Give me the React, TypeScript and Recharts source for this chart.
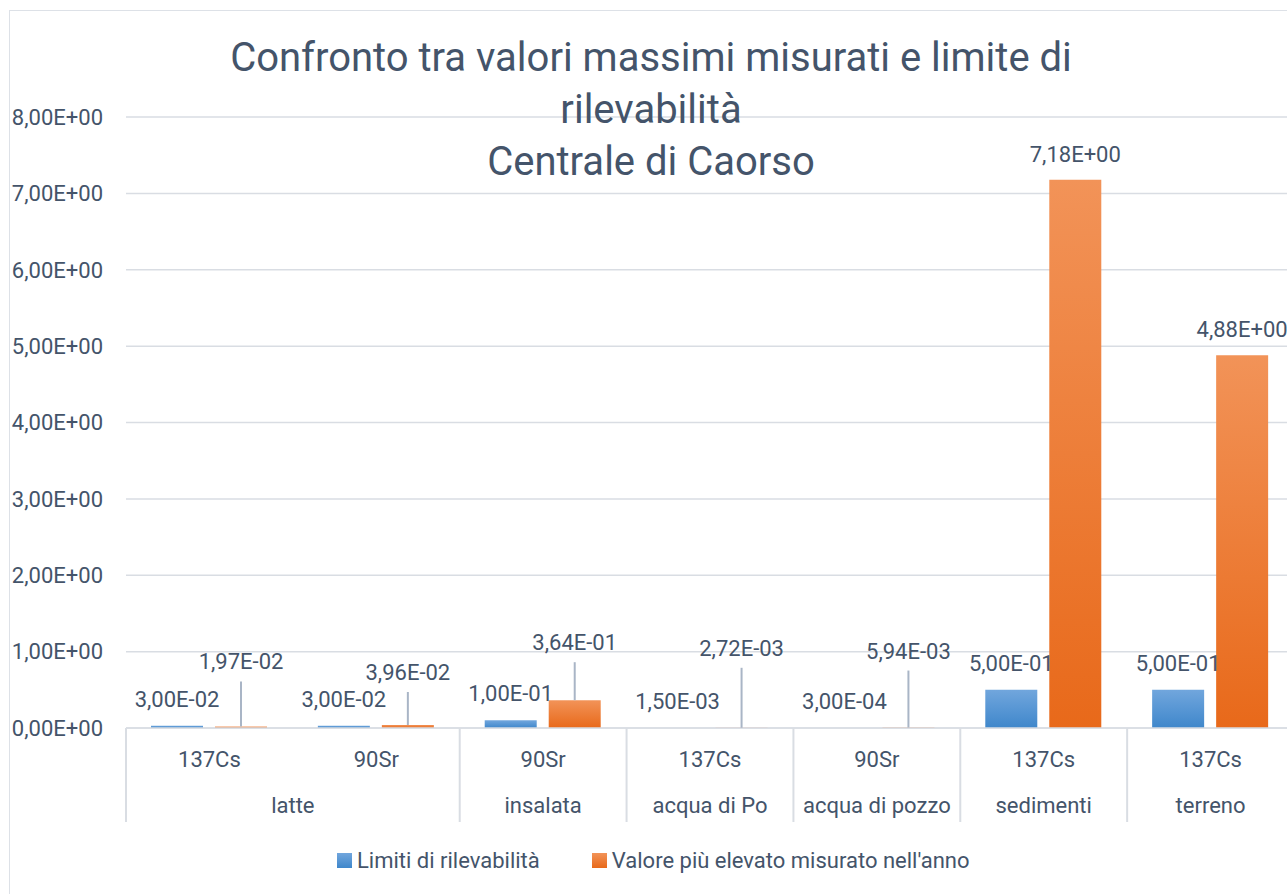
import React from 'react';
import { BarChart, Bar, XAxis, YAxis, CartesianGrid, LabelList, Legend } from 'recharts';

// ---------- data ----------
const subLabels = ['137Cs', '90Sr', '90Sr', '137Cs', '90Sr', '137Cs', '137Cs'];
const groupLabels = ['latte', 'latte', 'insalata', 'acqua di Po', 'acqua di pozzo', 'sedimenti', 'terreno'];
const limitiValues = [3.0e-2, 3.0e-2, 1.0e-1, 1.5e-3, 3.0e-4, 5.0e-1, 5.0e-1];
const valoreValues = [1.97e-2, 3.96e-2, 3.64e-1, 2.72e-3, 5.94e-3, 7.18, 4.88];
const yTicks = [0, 1, 2, 3, 4, 5, 6, 7, 8];
const seriesNames = ['Limiti di rilevabilità', "Valore più elevato misurato nell'anno"];
const titleLines = ['Confronto tra valori massimi misurati e limite di', 'rilevabilità', 'Centrale di Caorso'];

const data = subLabels.map((s, i) => ({
  idx: i,
  sub: s,
  group: groupLabels[i],
  limiti: limitiValues[i],
  valore: valoreValues[i],
}));

// ---------- style ----------
const FONT = 'Roboto, "Noto Sans", sans-serif';
const TEXT = '#44546A';
const GRID = '#D9DDE3';
const LEADER = '#A9B5C6';
const CHART_W = 1300;
const CHART_H = 884;
const PLOT_W = CHART_W - 116 - 16;
// manual label lifts (px above bar top) as in the original, for the orange series
const ORANGE_LIFT = [65, 53, 58, 80, 77, 26, 26];
const BLUE_LIFT = 27;

function fmt(v: number): string {
  if (v === 0) return '0,00E+00';
  let e = Math.floor(Math.log10(Math.abs(v)));
  let m = v / Math.pow(10, e);
  let ms = m.toFixed(2);
  if (ms === '10.00') {
    e += 1;
    ms = '1.00';
  }
  return ms.replace('.', ',') + 'E' + (e < 0 ? '-' : '+') + String(Math.abs(e)).padStart(2, '0');
}

const CatTick = (props: any) => {
  const { x, y, payload } = props;
  const i = Number(payload.value);
  const off = payload.offset ?? PLOT_W / subLabels.length / 2;
  const isFirst = i === 0 || groupLabels[i - 1] !== groupLabels[i];
  let n = 0;
  if (isFirst) {
    let j = i;
    while (j < groupLabels.length && groupLabels[j] === groupLabels[i]) {
      n++;
      j++;
    }
  }
  const isLast = i === subLabels.length - 1;
  return (
    <g>
      <text x={x} y={y + 38.5} textAnchor="middle" fill={TEXT} fontSize={22} fontFamily={FONT}>
        {subLabels[i]}
      </text>
      {isFirst && (
        <>
          <line x1={x - off} x2={x - off} y1={y} y2={y + 94} stroke={GRID} strokeWidth={2} />
          <text x={x - off + n * off} y={y + 84.5} textAnchor="middle" fill={TEXT} fontSize={22} fontFamily={FONT}>
            {groupLabels[i]}
          </text>
        </>
      )}
      {isLast && <line x1={x + off} x2={x + off} y1={y} y2={y + 94} stroke={GRID} strokeWidth={2} />}
    </g>
  );
};

const BlueLabel = (props: any) => {
  const { x, y, width, value } = props;
  const cx = x + width / 2;
  return (
    <text x={cx} y={y - BLUE_LIFT + 8} textAnchor="middle" fill={TEXT} fontSize={22} fontFamily={FONT}>
      {fmt(Number(value))}
    </text>
  );
};

const OrangeLabel = (props: any) => {
  const { x, y, width, value, index } = props;
  const cx = x + width / 2;
  const lift = ORANGE_LIFT[index] ?? 26;
  return (
    <g>
      {lift > 40 && (
        <line x1={cx} x2={cx} y1={y - lift + 20} y2={y} stroke={LEADER} strokeWidth={2} />
      )}
      <text x={cx} y={y - lift + 8} textAnchor="middle" fill={TEXT} fontSize={22} fontFamily={FONT}>
        {fmt(Number(value))}
      </text>
    </g>
  );
};

const LegendContent = () => (
  <div
    style={{
      display: 'flex',
      alignItems: 'center',
      height: 26,
      paddingLeft: 327,
      fontFamily: FONT,
      fontSize: 22,
      color: TEXT,
      whiteSpace: 'nowrap',
    }}
  >
    {seriesNames.map((name, i) => (
      <div key={name} style={{ display: 'flex', alignItems: 'center', marginRight: 52 }}>
        <div
          style={{
            width: 15,
            height: 15,
            marginRight: 5,
            background:
              i === 0
                ? 'linear-gradient(#71A6DD, #3F87CB)'
                : 'linear-gradient(#F29358, #E8691A)',
          }}
        />
        <span>{name}</span>
      </div>
    ))}
  </div>
);

export default function App() {
  return (
    <div
      style={{
        position: 'fixed',
        left: 8,
        top: 8,
        width: 1279,
        height: 886,
        overflow: 'hidden',
      }}
    >
      <div
        style={{
          position: 'absolute',
          left: 1,
          top: 2,
          width: CHART_W,
          height: CHART_H,
          border: '1px solid #DDE1E7',
          background: '#fff',
        }}
      >
        <BarChart
          width={CHART_W}
          height={CHART_H}
          data={data}
          margin={{ top: 106, right: 16, bottom: 67, left: 0 }}
          barSize={52}
          barGap={12}
        >
          <defs>
            <linearGradient id="gBlue" x1="0" y1="0" x2="0" y2="1">
              <stop offset="0%" stopColor="#71A6DD" />
              <stop offset="100%" stopColor="#3F87CB" />
            </linearGradient>
            <linearGradient id="gOrange" x1="0" y1="0" x2="0" y2="1">
              <stop offset="0%" stopColor="#F29358" />
              <stop offset="100%" stopColor="#E8691A" />
            </linearGradient>
          </defs>
          <CartesianGrid vertical={false} stroke={GRID} strokeWidth={1.5} />
          <XAxis
            dataKey="idx"
            type="category"
            height={100}
            tickSize={0}
            tickMargin={0}
            tickLine={false}
            axisLine={{ stroke: GRID, strokeWidth: 1.5 }}
            interval={0}
            tick={<CatTick />}
          />
          <YAxis
            width={116}
            domain={[0, 8]}
            ticks={yTicks}
            tickSize={0}
            tickMargin={23}
            tickLine={false}
            axisLine={false}
            tickFormatter={(v: number) => fmt(v)}
            tick={{ fill: TEXT, fontSize: 22, fontFamily: FONT }}
          />
          <Legend
            verticalAlign="middle"
            align="center"
            layout="horizontal"
            wrapperStyle={{ top: 836, left: 0, width: CHART_W }}
            content={<LegendContent />}
          />
          <Bar dataKey="limiti" name={seriesNames[0]} fill="url(#gBlue)" isAnimationActive={false}>
            <LabelList dataKey="limiti" content={<BlueLabel />} />
          </Bar>
          <Bar dataKey="valore" name={seriesNames[1]} fill="url(#gOrange)" isAnimationActive={false}>
            <LabelList dataKey="valore" content={<OrangeLabel />} />
          </Bar>
        </BarChart>
        <div
          style={{
            position: 'absolute',
            left: 0,
            top: 21,
            width: 1282,
            textAlign: 'center',
            fontFamily: FONT,
            fontSize: 40,
            lineHeight: '52px',
            color: TEXT,
            pointerEvents: 'none',
          }}
        >
          {titleLines.map((l) => (
            <div key={l}>{l}</div>
          ))}
        </div>
      </div>
    </div>
  );
}
